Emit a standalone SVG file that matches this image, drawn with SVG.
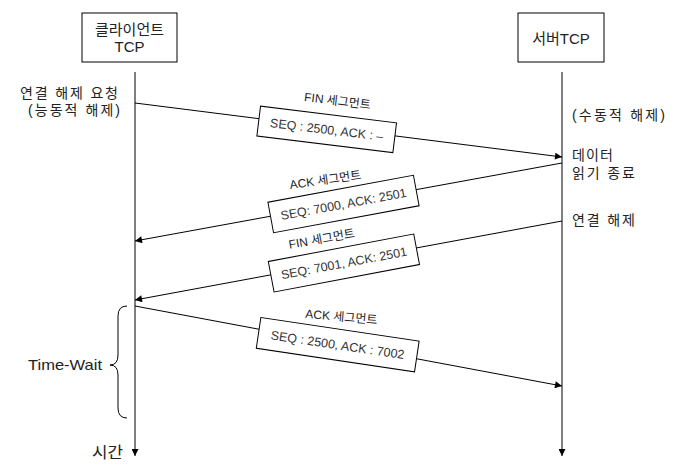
<svg xmlns="http://www.w3.org/2000/svg" width="678" height="470" viewBox="0 0 678 470">
<defs>
<style>
.node rect{fill:#fff;stroke:#000;stroke-width:1}
.t{font-family:"Liberation Sans","Noto Sans CJK KR",sans-serif;fill:#222}
.h{font-size:15px;text-anchor:middle}
.side{font-size:14px}
.seg rect{fill:#fff;stroke:#000;stroke-width:1}
.seg text{font-family:"Liberation Sans","Noto Sans CJK KR",sans-serif;font-size:12.5px;fill:#333;text-anchor:middle}
.lbl{font-family:"Liberation Sans","Noto Sans CJK KR",sans-serif;font-size:12px;fill:#222;text-anchor:middle}
.ln{stroke:#000;stroke-width:1;fill:none}
</style>
<marker id="ah" viewBox="0 0 10 10" refX="10" refY="5" markerWidth="10" markerHeight="7" markerUnits="userSpaceOnUse" orient="auto">
<path d="M0,0 L10,5 L0,10 Z" fill="#000"/>
</marker>
<marker id="ahv" viewBox="0 0 10 10" refX="10" refY="5" markerWidth="8" markerHeight="7" markerUnits="userSpaceOnUse" orient="auto">
<path d="M0,0 L10,5 L0,10 Z" fill="#000"/>
</marker>
</defs>
<rect width="678" height="470" fill="#fff"/>

<g id="client" class="node">
<rect x="82" y="13" width="95" height="49"/>
<text class="t h" x="129.5" y="35">클라이언트</text>
<text class="t h" x="129.5" y="52">TCP</text>
</g>
<g id="server" class="node">
<rect x="518" y="13" width="86" height="49"/>
<text class="t h" x="561" y="44">서버TCP</text>
</g>

<g id="connectors">
<line class="ln" x1="135" y1="72" x2="135" y2="456" marker-end="url(#ahv)"/>
<line class="ln" x1="562" y1="72" x2="562" y2="456" marker-end="url(#ahv)"/>
<line class="ln" x1="135" y1="103" x2="562" y2="157" marker-end="url(#ah)"/>
<line class="ln" x1="562" y1="163" x2="135" y2="241" marker-end="url(#ah)"/>
<line class="ln" x1="562" y1="221" x2="135" y2="300" marker-end="url(#ah)"/>
<line class="ln" x1="135" y1="306" x2="562" y2="386" marker-end="url(#ah)"/>
<path class="ln" d="M127,306 Q118,306 118,316 L118,355 Q118,365 110,365 Q118,365 118,375 L118,408 Q118,418 127,418"/>
</g>

<g id="seg1" class="seg" transform="translate(326.7,129.4) rotate(7)">
<rect x="-68.5" y="-15" width="137" height="30"/>
<text y="4.5">SEQ : 2500, ACK : –</text>
</g>
<g id="seg2" class="seg" transform="translate(343.5,204) rotate(-10.5)">
<rect x="-74" y="-15.5" width="148" height="31"/>
<text y="4.5">SEQ: 7000, ACK: 2501</text>
</g>
<g id="seg3" class="seg" transform="translate(343.9,263) rotate(-10.7)">
<rect x="-74" y="-15.5" width="148" height="31"/>
<text y="4.5">SEQ: 7001, ACK: 2501</text>
</g>
<g id="seg4" class="seg" transform="translate(337.7,344.7) rotate(8.5)">
<rect x="-80" y="-15.5" width="160" height="31"/>
<text y="4.5">SEQ : 2500, ACK : 7002</text>
</g>

<g id="labels">
<text class="lbl" transform="translate(337,105) rotate(7)">FIN 세그먼트</text>
<text class="lbl" transform="translate(326,184) rotate(-8)">ACK 세그먼트</text>
<text class="lbl" transform="translate(322.5,243) rotate(-10)">FIN 세그먼트</text>
<text class="lbl" transform="translate(341,321) rotate(5)">ACK 세그먼트</text>
</g>

<g id="notes">
<text class="t side" x="20" y="98" textLength="98" lengthAdjust="spacing">연결 해제 요청</text>
<text class="t side" x="28" y="115" textLength="92" lengthAdjust="spacing">(능동적 해제)</text>
<text class="t side" x="572" y="120" textLength="93" lengthAdjust="spacing">(수동적 해제)</text>
<text class="t side" x="572" y="160" textLength="41" lengthAdjust="spacing">데이터</text>
<text class="t side" x="572" y="178" textLength="63" lengthAdjust="spacing">읽기 종료</text>
<text class="t side" x="572" y="225" textLength="63" lengthAdjust="spacing">연결 해제</text>
<text class="t" x="28" y="370" font-size="15" textLength="74" lengthAdjust="spacingAndGlyphs">Time-Wait</text>
<text class="t" x="92" y="458" font-size="16" textLength="31" lengthAdjust="spacingAndGlyphs">시간</text>
</g>
</svg>
